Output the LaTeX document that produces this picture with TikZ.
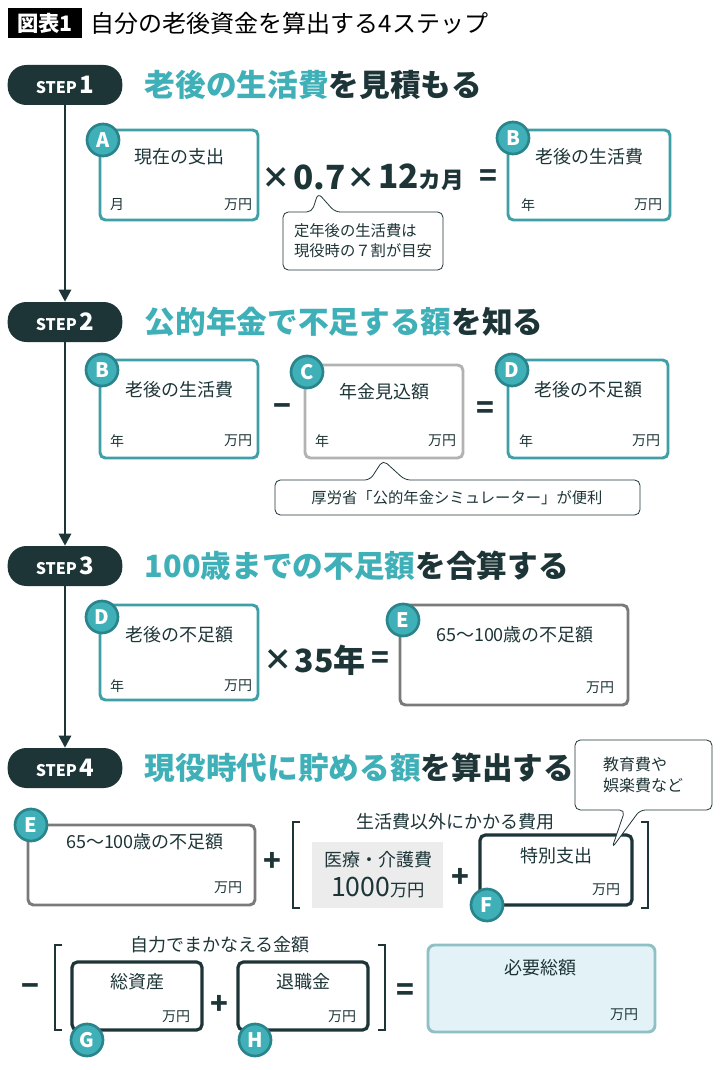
\documentclass[tikz,border=0pt]{standalone}
\usepackage{fontspec}
\setmainfont{Noto Sans CJK JP}
\usetikzlibrary{arrows.meta}
\definecolor{teal1}{HTML}{3FB0B8}
\definecolor{tealdk}{HTML}{2A848B}
\definecolor{boxteal}{HTML}{3E9FA6}
\definecolor{ink}{HTML}{1E3538}
\definecolor{grayb}{HTML}{7A7A7A}
\definecolor{lightbg}{HTML}{E3F2F6}
\definecolor{lightbd}{HTML}{8FC0C6}
\tikzset{
  box/.style={draw=boxteal, line width=2.2pt, rounded corners=4pt, fill=white},
  gbox/.style={draw=grayb, line width=2.2pt, rounded corners=4pt, fill=white},
  dbox/.style={draw=ink, line width=2.4pt, rounded corners=4pt, fill=white},
  badge/.style={circle, fill=teal1, draw=tealdk, line width=2pt, minimum size=24pt,
    inner sep=0pt, text=white, font=\bfseries\fontsize{15}{15}\selectfont},
  pill/.style={rectangle, rounded corners=14pt, fill=ink, text=white, minimum width=86pt,
    minimum height=30pt, inner sep=0pt},
  lbl/.style={font=\fontsize{13.5}{15}\selectfont, text=ink},
  unit/.style={font=\fontsize{10.5}{12}\selectfont, text=ink},
  op/.style={font=\bfseries\fontsize{22}{22}\selectfont, text=ink},
  big/.style={font=\bfseries\fontsize{25}{25}\selectfont, text=ink, inner sep=0pt},
  head/.style={anchor=west, font=\bfseries\fontsize{23}{24}\selectfont, text=ink},
  note/.style={draw=ink, line width=0.6pt, rounded corners=4pt, fill=white},
  flow/.style={draw=ink, line width=2pt, -{Triangle[length=9pt,width=9pt]}}
}
\newcommand{\steplbl}[1]{\bfseries\fontsize{12}{12}\selectfont STEP\,\fontsize{18}{18}\selectfont #1}
\begin{document}
\begin{tikzpicture}[x=0.75pt,y=-0.75pt]
   \useasboundingbox (0,0) rectangle (720,1070);
   \fill[white] (0,0) rectangle (720,1070);

   %% Titel
   \fill[black] (8,8) rectangle (82,38);
   \node[text=white, font=\bfseries\fontsize{16}{16}\selectfont] (fig) at (45,23) {図表1};
   \node[anchor=west, font=\fontsize{18}{18}\selectfont] (title) at (86,23) {自分の老後資金を算出する4ステップ};

   %% Schritte
   \node[pill] (s1) at (65,85) {\steplbl{1}};
   \node[pill] (s2) at (65,322) {\steplbl{2}};
   \node[pill] (s3) at (65,566) {\steplbl{3}};
   \node[pill] (s4) at (65,768) {\steplbl{4}};
   \draw[flow] (s1) -- (s2);
   \draw[flow] (s2) -- (s3);
   \draw[flow] (s3) -- (s4);

   \node[head] (h1) at (140,85) {\textcolor{teal1}{老後の生活費}を見積もる};
   \node[head] (h2) at (140,322) {\textcolor{teal1}{公的年金で不足する額}を知る};
   \node[head] (h3) at (140,566) {\textcolor{teal1}{100歳までの不足額}を合算する};
   \node[head] (h4) at (140,768) {\textcolor{teal1}{現役時代に貯める額}を算出する};

   %% STEP 1
   \draw[box] (100,130) rectangle (258,220);
   \node[lbl] (a1) at (179,157) {現在の支出};
   \node[unit] (a2) at (117,205) {月};
   \node[unit] (a3) at (238,205) {万円};
   \node[badge] (bA) at (103,140) {A};
   \node[op] (m1) at (276,178) {×};
   \node[big, anchor=west] (n1) at (293,177) {0.7};
   \node[op] (m2) at (361,178) {×};
   \node[big, anchor=west] (n2) at (378,177) {12\fontsize{17}{17}\selectfont カ月};
   \node[op] (e1) at (488,178) {=};
   \draw[box] (508,130) rectangle (670,220);
   \node[lbl] (b1) at (589,157) {老後の生活費};
   \node[unit] (b2) at (528,205) {年};
   \node[unit] (b3) at (648,205) {万円};
   \node[badge] (bB) at (513,138) {B};
   \draw[note] (283,212) -- (312,212) -- (318,193) -- (335,212) -- (443,212) -- (443,270) -- (283,270) -- cycle;
   \node[font=\fontsize{11.5}{15}\selectfont, align=left, text=ink] (c1) at (363,241) {定年後の生活費は\\現役時の７割が目安};

   %% STEP 2
   \draw[box] (100,360) rectangle (258,458);
   \node[lbl] (b4) at (179,390) {老後の生活費};
   \node[unit] (b5) at (117,441) {年};
   \node[unit] (b6) at (238,441) {万円};
   \node[badge] (bB2) at (102,370) {B};
   \node[op] (m3) at (282,410) {−};
   \draw[draw=gray!60, line width=2.2pt, rounded corners=4pt, fill=white] (305,365) rectangle (463,458);
   \node[lbl] (c2) at (384,392) {年金見込額};
   \node[unit] (c3) at (322,441) {年};
   \node[unit] (c4) at (442,441) {万円};
   \node[badge] (bC) at (307,372) {C};
   \node[op] (e2) at (485,410) {=};
   \draw[box] (508,360) rectangle (668,458);
   \node[lbl] (d1) at (588,390) {老後の不足額};
   \node[unit] (d2) at (526,441) {年};
   \node[unit] (d3) at (646,441) {万円};
   \node[badge] (bD) at (512,370) {D};
   \draw[note] (275,480) -- (370,480) -- (383,460) -- (405,480) -- (640,480) -- (640,515) -- (275,515) -- cycle;
   \node[font=\fontsize{11.5}{13}\selectfont, text=ink] (c5) at (457,498) {厚労省「公的年金シミュレーター」が便利};

   %% STEP 3
   \draw[box] (100,605) rectangle (258,700);
   \node[lbl] (d4) at (179,635) {老後の不足額};
   \node[unit] (d5) at (117,686) {年};
   \node[unit] (d6) at (238,686) {万円};
   \node[badge] (bD2) at (102,617) {D};
   \node[op] (m4) at (278,660) {×};
   \node[font=\bfseries\fontsize{24}{24}\selectfont, text=ink] (n3) at (330,660) {35年};
   \node[op] (e3) at (380,660) {=};
   \draw[gbox] (400,605) rectangle (628,705);
   \node[lbl] (f1) at (515,635) {65〜100歳の不足額};
   \node[unit] (f2) at (600,688) {万円};
   \node[badge] (bE) at (403,620) {E};

   %% STEP 4
   \draw[gbox] (28,825) rectangle (255,905);
   \node[lbl] (g1) at (145,842) {65〜100歳の不足額};
   \node[unit] (g2) at (228,888) {万円};
   \node[badge] (bE2) at (31,825) {E};
   \node[op] (p1) at (272,862) {+};
   \draw[ink, line width=1.5pt] (300,822) -- (293,822) -- (293,908) -- (300,908);
   \draw[ink, line width=1.5pt] (641,822) -- (648,822) -- (648,908) -- (641,908);
   \node[lbl] (g3) at (455,822) {生活費以外にかかる費用};
   \fill[gray!15] (312,842) rectangle (443,908);
   \node[lbl] (g4) at (378,860) {医療・介護費};
   \node[font=\fontsize{20}{20}\selectfont, text=ink] (g5) at (378,888) {1000\fontsize{13}{13}\selectfont 万円};
   \node[op] (p2) at (460,878) {+};
   \draw[dbox] (480,835) rectangle (632,905);
   \node[lbl] (g6) at (556,856) {特別支出};
   \node[unit] (g7) at (606,890) {万円};
   \node[badge] (bF) at (487,905) {F};
   \draw[note] (575,740) -- (712,740) -- (712,810) -- (640,810) -- (612,848) -- (625,810) -- (575,810) -- cycle;
   \node[font=\fontsize{12}{16}\selectfont, align=left, text=ink] (g8) at (643,775) {教育費や\\娯楽費など};

   \node[op] (m5) at (30,990) {−};
   \draw[ink, line width=1.5pt] (62,945) -- (55,945) -- (55,1030) -- (62,1030);
   \draw[ink, line width=1.5pt] (378,945) -- (385,945) -- (385,1030) -- (378,1030);
   \node[lbl] (k1) at (220,945) {自力でまかなえる金額};
   \draw[dbox] (72,962) rectangle (202,1030);
   \node[lbl] (k2) at (137,982) {総資産};
   \node[unit] (k3) at (176,1017) {万円};
   \node[badge] (bG) at (87,1040) {G};
   \node[op] (p3) at (219,1005) {+};
   \draw[dbox] (238,962) rectangle (368,1030);
   \node[lbl] (k4) at (303,982) {退職金};
   \node[unit] (k5) at (342,1017) {万円};
   \node[badge] (bH) at (255,1040) {H};
   \node[op] (e4) at (405,992) {=};
   \draw[draw=lightbd, fill=lightbg, line width=2.2pt, rounded corners=5pt] (428,945) rectangle (655,1032);
   \node[lbl] (k6) at (540,968) {必要総額};
   \node[unit] (k7) at (624,1015) {万円};
\end{tikzpicture}
\end{document}
